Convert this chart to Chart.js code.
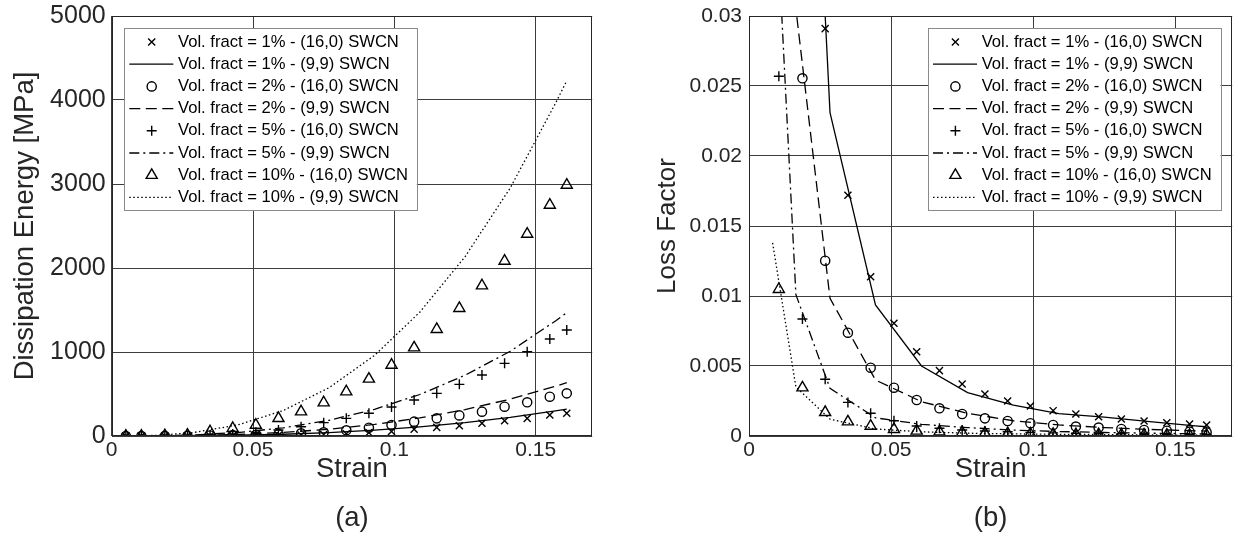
<!DOCTYPE html>
<html><head><meta charset="utf-8">
<script src="https://cdn.jsdelivr.net/npm/chart.js@4.4.1/dist/chart.umd.min.js"></script>
<style>
html,body{margin:0;padding:0;background:#fff;overflow:hidden;width:1233px;height:553px;}
#wrapA{position:absolute;left:0;top:0;width:600px;height:553px;}
#wrapB{position:absolute;left:620px;top:0;width:620px;height:553px;}
</style></head><body>
<div id="wrapA"><canvas id="chartA" width="600" height="553"></canvas></div>
<div id="wrapB"><canvas id="chartB" width="620" height="553"></canvas></div>
<script>
// ---------- data ----------
const strainMarkers = [0.005, 0.0105, 0.0188, 0.0268, 0.0348, 0.0428, 0.051, 0.059, 0.067, 0.075, 0.083, 0.091, 0.099, 0.107, 0.115, 0.123, 0.131, 0.139, 0.147, 0.155, 0.161];
const strainLines = [0.0083, 0.0165, 0.0285, 0.0445, 0.0607, 0.0769, 0.093, 0.109, 0.125, 0.141, 0.157, 0.161];

const seriesLabels = [
  'Vol. fract = 1% - (16,0) SWCN', 'Vol. fract = 1% - (9,9) SWCN',
  'Vol. fract = 2% - (16,0) SWCN', 'Vol. fract = 2% - (9,9) SWCN',
  'Vol. fract = 5% - (16,0) SWCN', 'Vol. fract = 5% - (9,9) SWCN',
  'Vol. fract = 10% - (16,0) SWCN', 'Vol. fract = 10% - (9,9) SWCN'
];

// (a) Dissipation energy [MPa]
const energy1_16 = [0, 0, 0, 1, 2, 3, 5, 8, 12, 18, 27, 40, 54, 80, 103, 123, 151, 182, 210, 250, 270];
const energy2_16 = [0, 0, 1, 3, 6, 10, 15, 22, 32, 44, 68, 98, 131, 171, 210, 245, 290, 349, 401, 468, 508];
const energy5_16 = [0, 0, 2, 5, 12, 24, 44, 71, 111, 159, 210, 270, 345, 429, 508, 615, 726, 865, 1004, 1155, 1262];
const energy10_16 = [0, 0, 5, 12, 52, 92, 131, 210, 290, 397, 528, 679, 845, 1051, 1270, 1520, 1790, 2083, 2405, 2750, 2988];
const energy1_99 = [0, 0.6, 2.6, 9, 21, 41, 70, 109, 159, 222, 299, 321];
const energy2_99 = [0, 1, 5, 18, 42, 81, 138, 215, 314, 439, 592, 635];
const energy5_99 = [0, 3, 12, 41, 97, 187, 318, 494, 723, 1009, 1370, 1468];
const energy10_99 = [1, 9, 39, 131, 303, 575, 960, 1474, 2134, 2953, 3960, 4230];

// (b) Loss factor (null = above the plotted range)
const loss1_16 = [null, null, null, 0.0291, 0.0172, 0.01138, 0.00805, 0.00602, 0.00467, 0.00371, 0.0030, 0.0025, 0.00214, 0.00181, 0.00157, 0.00138, 0.00121, 0.00107, 0.00095, 0.00086, 0.00079];
const loss2_16 = [null, null, 0.02555, 0.01252, 0.00738, 0.00488, 0.00345, 0.00257, 0.00198, 0.00157, 0.00126, 0.00107, 0.00091, 0.00079, 0.00067, 0.0006, 0.0005, 0.00043, 0.00038, 0.00031, 0.00026];
const loss5_16 = [null, 0.0257, 0.00836, 0.00405, 0.0024, 0.00162, 0.00109, 0.00071, 0.00055, 0.00043, 0.00036, 0.0003, 0.00026, 0.00022, 0.0002, 0.00018, 0.00016, 0.00014, 0.00013, 0.00012, 0.00011];
const loss10_16 = [null, 0.01048, 0.00345, 0.00169, 0.00102, 0.00071, 0.00048, 0.00036, 0.0003, 0.00025, 0.0002, 0.00017, 0.00015, 0.00013, 0.00011, 0.0001, 0.00009, 0.00008, 0.00007, 0.00006, 0.00006];
const loss1_99 = [0.2, 0.072, 0.0231, 0.00936, 0.0050, 0.0031, 0.0022, 0.0016, 0.00135, 0.00102, 0.00072, 0.00066];
const loss2_99 = [0.09, 0.0305, 0.00983, 0.0040, 0.00245, 0.00162, 0.00109, 0.00079, 0.0006, 0.00047, 0.00037, 0.00035];
const loss5_99 = [0.043, 0.0101, 0.0034, 0.0013, 0.00083, 0.0006, 0.00042, 0.00032, 0.00025, 0.0002, 0.00016, 0.00015];
const loss10_99 = [0.0138, 0.0035, 0.0012, 0.0005, 0.0003, 0.0002, 0.00015, 0.00012, 0.0001, 0.00008, 0.00006, 0.00006];

// ticks
const strainTickValues = [0, 0.05, 0.1, 0.15];
const strainTickLabels = ['0', '0.05', '0.1', '0.15'];
const energyTickValues = [0, 1000, 2000, 3000, 4000, 5000];
const energyTickLabels = ['0', '1000', '2000', '3000', '4000', '5000'];
const lossTickValues = [0, 0.005, 0.01, 0.015, 0.02, 0.025, 0.03];
const lossTickLabels = ['0', '0.005', '0.01', '0.015', '0.02', '0.025', '0.03'];

// ---------- styles ----------
const FONT = '"Liberation Sans", Arial, Helvetica, sans-serif';
const TXT = '#262626';
const markerStyles = ['crossRot', 'circle', 'cross', 'triangle'];
const markerRadii = [5, 4.6, 5, 6.4];
const lineDashes = [[], [11, 5.5], [10, 4, 2, 4], [1.5, 2.5]];

Chart.defaults.font.family = FONT;
Chart.defaults.color = TXT;

function pts(xs, ys) { return xs.map((x, i) => ({ x: x, y: ys[i] })); }

function buildDatasets(markerSeries, lineSeries) {
  const out = [];
  for (let k = 0; k < 4; k++) {
    out.push({
      label: seriesLabels[2 * k],
      data: pts(strainMarkers, markerSeries[k]),
      showLine: false,
      pointStyle: markerStyles[k],
      pointRadius: markerRadii[k],
      pointBorderWidth: 1.4,
      pointBorderColor: '#000',
      pointBackgroundColor: 'rgba(0,0,0,0)',
      borderColor: '#000',
      backgroundColor: 'rgba(0,0,0,0)'
    });
    out.push({
      label: seriesLabels[2 * k + 1],
      data: pts(strainLines, lineSeries[k]),
      showLine: true,
      pointRadius: 0,
      borderColor: '#000',
      borderWidth: 1.3,
      borderDash: lineDashes[k],
      backgroundColor: 'rgba(0,0,0,0)',
      fill: false
    });
  }
  return out;
}

function drawMarker(ctx, style, r, x, y) {
  ctx.beginPath();
  if (style === 'circle') {
    ctx.arc(x, y, r, 0, Math.PI * 2);
  } else if (style === 'cross') {
    ctx.moveTo(x, y - r); ctx.lineTo(x, y + r);
    ctx.moveTo(x - r, y); ctx.lineTo(x + r, y);
  } else if (style === 'crossRot') {
    const d = r * Math.SQRT1_2;
    ctx.moveTo(x - d, y - d); ctx.lineTo(x + d, y + d);
    ctx.moveTo(x - d, y + d); ctx.lineTo(x + d, y - d);
  } else if (style === 'triangle') {
    const s = r * Math.sin(Math.PI * 2 / 3);
    ctx.moveTo(x, y - r); ctx.lineTo(x + s, y + r / 2); ctx.lineTo(x - s, y + r / 2); ctx.closePath();
  }
  ctx.stroke();
}

const boxLegend = {
  id: 'boxLegend',
  afterDraw(chart, args, o) {
    const ctx = chart.ctx, ca = chart.chartArea;
    const left = o.side === 'left' ? ca.left + o.inset : ca.right - o.inset - o.width;
    const top = ca.top + o.insetTop;
    ctx.save();
    ctx.fillStyle = '#fff';
    ctx.fillRect(left, top, o.width, o.height);
    ctx.strokeStyle = '#8a8a8a'; ctx.lineWidth = 1;
    ctx.strokeRect(Math.round(left) + 0.5, Math.round(top) + 0.5, Math.round(o.width), Math.round(o.height));
    ctx.font = o.fontSize + 'px ' + FONT;
    ctx.textBaseline = 'middle'; ctx.textAlign = 'left';
    chart.data.datasets.forEach((ds, i) => {
      const cy = top + o.firstRow + i * o.rowGap;
      ctx.save();
      ctx.strokeStyle = '#000';
      if (ds.showLine) {
        ctx.lineWidth = ds.borderWidth;
        ctx.setLineDash(ds.borderDash || []);
        ctx.beginPath(); ctx.moveTo(left + o.sampleX0, cy); ctx.lineTo(left + o.sampleX1, cy); ctx.stroke();
      } else {
        ctx.lineWidth = ds.pointBorderWidth;
        drawMarker(ctx, ds.pointStyle, ds.pointRadius, left + o.markerX, cy);
      }
      ctx.restore();
      ctx.fillStyle = '#000';
      ctx.fillText(ds.label, left + o.textX, cy);
    });
    ctx.restore();
  }
};

const frame = {
  id: 'frame',
  afterDatasetsDraw(chart) {
    const ctx = chart.ctx, ca = chart.chartArea;
    ctx.save();
    ctx.strokeStyle = '#262626'; ctx.lineWidth = 1;
    const l = Math.round(ca.left) + 0.5, t = Math.round(ca.top) + 0.5;
    const r = Math.round(ca.right) - 0.5, b = Math.round(ca.bottom) - 0.5;
    ctx.strokeRect(l, t, r - l, b - t);
    ctx.restore();
  }
};

function makeChart(id, cfg) {
  return new Chart(document.getElementById(id), {
    type: 'scatter',
    data: { datasets: cfg.datasets },
    plugins: [frame, boxLegend],
    options: {
      responsive: false, animation: false, devicePixelRatio: 1, events: [],
      layout: { padding: { top: 16, right: cfg.padRight, bottom: 0, left: 0 } },
      plugins: {
        legend: { display: false }, tooltip: { enabled: false },
        boxLegend: { side: cfg.legendSide, inset: cfg.legendInset, insetTop: 12.3, width: 292.5, height: 181.7,
          firstRow: 13.7, rowGap: 22.2, sampleX0: 5, sampleX1: 49, markerX: 27.4, textX: 53.7, fontSize: 16.6 }
      },
      scales: {
        x: {
          type: 'linear', min: 0, max: cfg.xMax,
          afterBuildTicks: s => { s.ticks = strainTickValues.map(v => ({ value: v })); },
          afterFit: s => { s.height = 117; s.paddingLeft = 0; s.paddingRight = 0; },
          ticks: { callback: (v, i) => strainTickLabels[i], font: { size: 21 }, color: TXT, padding: 2, maxRotation: 0, autoSkip: false },
          grid: { color: '#3c3c3c', lineWidth: 1, drawTicks: false },
          border: { display: false },
          title: { display: true, text: ['Strain', cfg.panel], color: TXT,
            font: { size: 27.5, lineHeight: '49px' }, padding: { top: 0, bottom: 10.5 } }
        },
        y: {
          type: 'linear', min: 0, max: cfg.yMax,
          afterBuildTicks: s => { s.ticks = cfg.yTickValues.map(v => ({ value: v })); },
          afterFit: s => { s.width = cfg.yAxisWidth; s.paddingTop = 0; s.paddingBottom = 0; },
          ticks: { callback: (v, i) => cfg.yTickLabels[i], font: { size: cfg.yTickSize }, color: TXT, padding: cfg.yTickPad, autoSkip: false },
          grid: { color: '#3c3c3c', lineWidth: 1, drawTicks: false },
          border: { display: false },
          title: { display: true, text: cfg.yTitle, color: TXT,
            font: { size: cfg.yTitleSize }, padding: { top: cfg.yTitlePad, bottom: 0 } }
        }
      }
    }
  });
}

makeChart('chartA', {
  datasets: buildDatasets([energy1_16, energy2_16, energy5_16, energy10_16], [energy1_99, energy2_99, energy5_99, energy10_99]),
  xMax: 0.17, yMax: 5000, yTickValues: energyTickValues, yTickLabels: energyTickLabels,
  yTickSize: 25, yTickPad: 6, yTitleSize: 27.5,
  yAxisWidth: 111.7, padRight: 3.7, yTitle: 'Dissipation Energy [MPa]', yTitlePad: 9,
  panel: '(a)', legendSide: 'left', legendInset: 12.6
});

makeChart('chartB', {
  datasets: buildDatasets([loss1_16, loss2_16, loss5_16, loss10_16], [loss1_99, loss2_99, loss5_99, loss10_99]),
  xMax: 0.17, yMax: 0.03, yTickValues: lossTickValues, yTickLabels: lossTickLabels,
  yTickSize: 21, yTickPad: 7, yTitleSize: 26,
  yAxisWidth: 129, padRight: 5.8, yTitle: 'Loss Factor', yTitlePad: 32.4,
  panel: '(b)', legendSide: 'right', legendInset: 11.7
});
</script>
</body></html>
